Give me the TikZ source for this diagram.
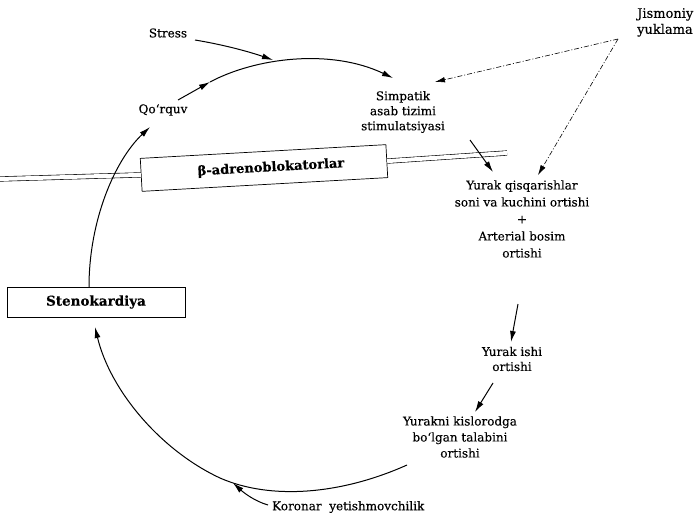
\documentclass[tikz,border=0pt]{standalone}
\usepackage{fontspec}
\setmainfont{DejaVu Serif}[FakeBold=0.3]
\usetikzlibrary{arrows.meta}
\begin{document}
\begin{tikzpicture}[x=1pt,y=-1pt,
  lbl/.style={font=\fontsize{12}{15}\selectfont, align=center, inner sep=0pt},
  flow/.style={line width=1pt, -{Latex[length=11pt,width=6pt]}},
  load/.style={line width=0.6pt, dash pattern=on 5pt off 2pt on 1pt off 2pt,
               -{Latex[length=10pt,width=5.5pt]}},
  rod/.style={double distance=4pt, line width=0.6pt},
  boxlbl/.style={draw, line width=0.7pt, font=\bfseries\fontsize{13}{15}\selectfont,
                 inner sep=0pt}]
\useasboundingbox (0,0) rectangle (700,516);

% labels of the cycle
\node[lbl] (stress) at (168,33) {Stress};
\node[lbl] (qorquv) at (163,110) {Qo‘rquv};
\node[lbl] (simp) at (403,112) {Simpatik\\asab tizimi\\stimulatsiyasi};
\node[lbl, font=\fontsize{13}{16}\selectfont, align=left, anchor=north west] (jism)
  at (637,8) {Jismoniy\\yuklama};
\node[lbl, font=\fontsize{12}{17}\selectfont] (yurak) at (522,219)
  {Yurak qisqarishlar\\soni va kuchini ortishi\\+\\Arterial bosim\\ortishi};
\node[lbl] (ishi) at (512,359) {Yurak ishi\\ortishi};
\node[lbl, font=\fontsize{12}{16}\selectfont] (talab) at (460,437)
  {Yurakni kislorodga\\bo‘lgan talabini\\ortishi};
\node[lbl, anchor=west] (koronar) at (272,507) {Koronar\ \ yetishmovchilik};

% boxed nodes
\node[boxlbl, font=\bfseries\fontsize{13.5}{15}\selectfont, minimum width=178pt,
      minimum height=30pt] (steno) at (96,302) {Stenokardiya\hspace{10pt}};
\node[boxlbl, minimum width=246pt, minimum height=33pt, rotate=3.2] (beta) at (264,168)
  {\hspace{14pt}β-adrenoblokatorlar};

% blocking rod through the beta box
\coordinate (rodL) at (0,179);
\coordinate (rodR) at (507,153);
\draw[rod] (rodL) -- (beta.west);
\draw[rod] (beta.east) -- (rodR);

% cycle connectors
\coordinate (qtail) at (178,100);
\coordinate (m1) at (210,82);
\coordinate (s1) at (273,60);
\coordinate (stail) at (195,40);
\coordinate (sarr) at (393,78);
\draw[flow] (qtail) -- (m1);
\draw[flow] (m1) .. controls (255,58) and (330,48) .. (sarr);
\draw[flow] (stail) .. controls (225,45) and (250,52) .. (s1);

\coordinate (stop) at (89,287);
\coordinate (qhead) at (150,127);
\draw[flow] (stop) .. controls (89,220) and (115,160) .. (qhead);

\coordinate (y1t) at (470,140);
\coordinate (y1h) at (493,172);
\draw[flow] (y1t) -- (y1h);

\coordinate (y2t) at (518,304);
\coordinate (y2h) at (511,342);
\draw[flow] (y2t) -- (y2h);

\coordinate (y3t) at (493,383);
\coordinate (y3h) at (475,412);
\draw[flow] (y3t) -- (y3h);

\coordinate (btail) at (407,465);
\coordinate (bmid) at (220,478);
\coordinate (bhead) at (95,327);
\draw[flow] (btail) .. controls (340,495) and (270,500) .. (bmid)
  .. controls (160,450) and (110,390) .. (bhead);

\coordinate (ktail) at (268,505);
\coordinate (khead) at (233,483);
\draw[flow] (ktail) .. controls (254,501) and (243,492) .. (khead);

% physical load, dash-dotted
\coordinate (apex) at (618,39);
\coordinate (j1) at (435,82);
\coordinate (j2) at (538,175);
\draw[load] (apex) -- (j1);
\draw[load] (apex) -- (j2);
\end{tikzpicture}
\end{document}
